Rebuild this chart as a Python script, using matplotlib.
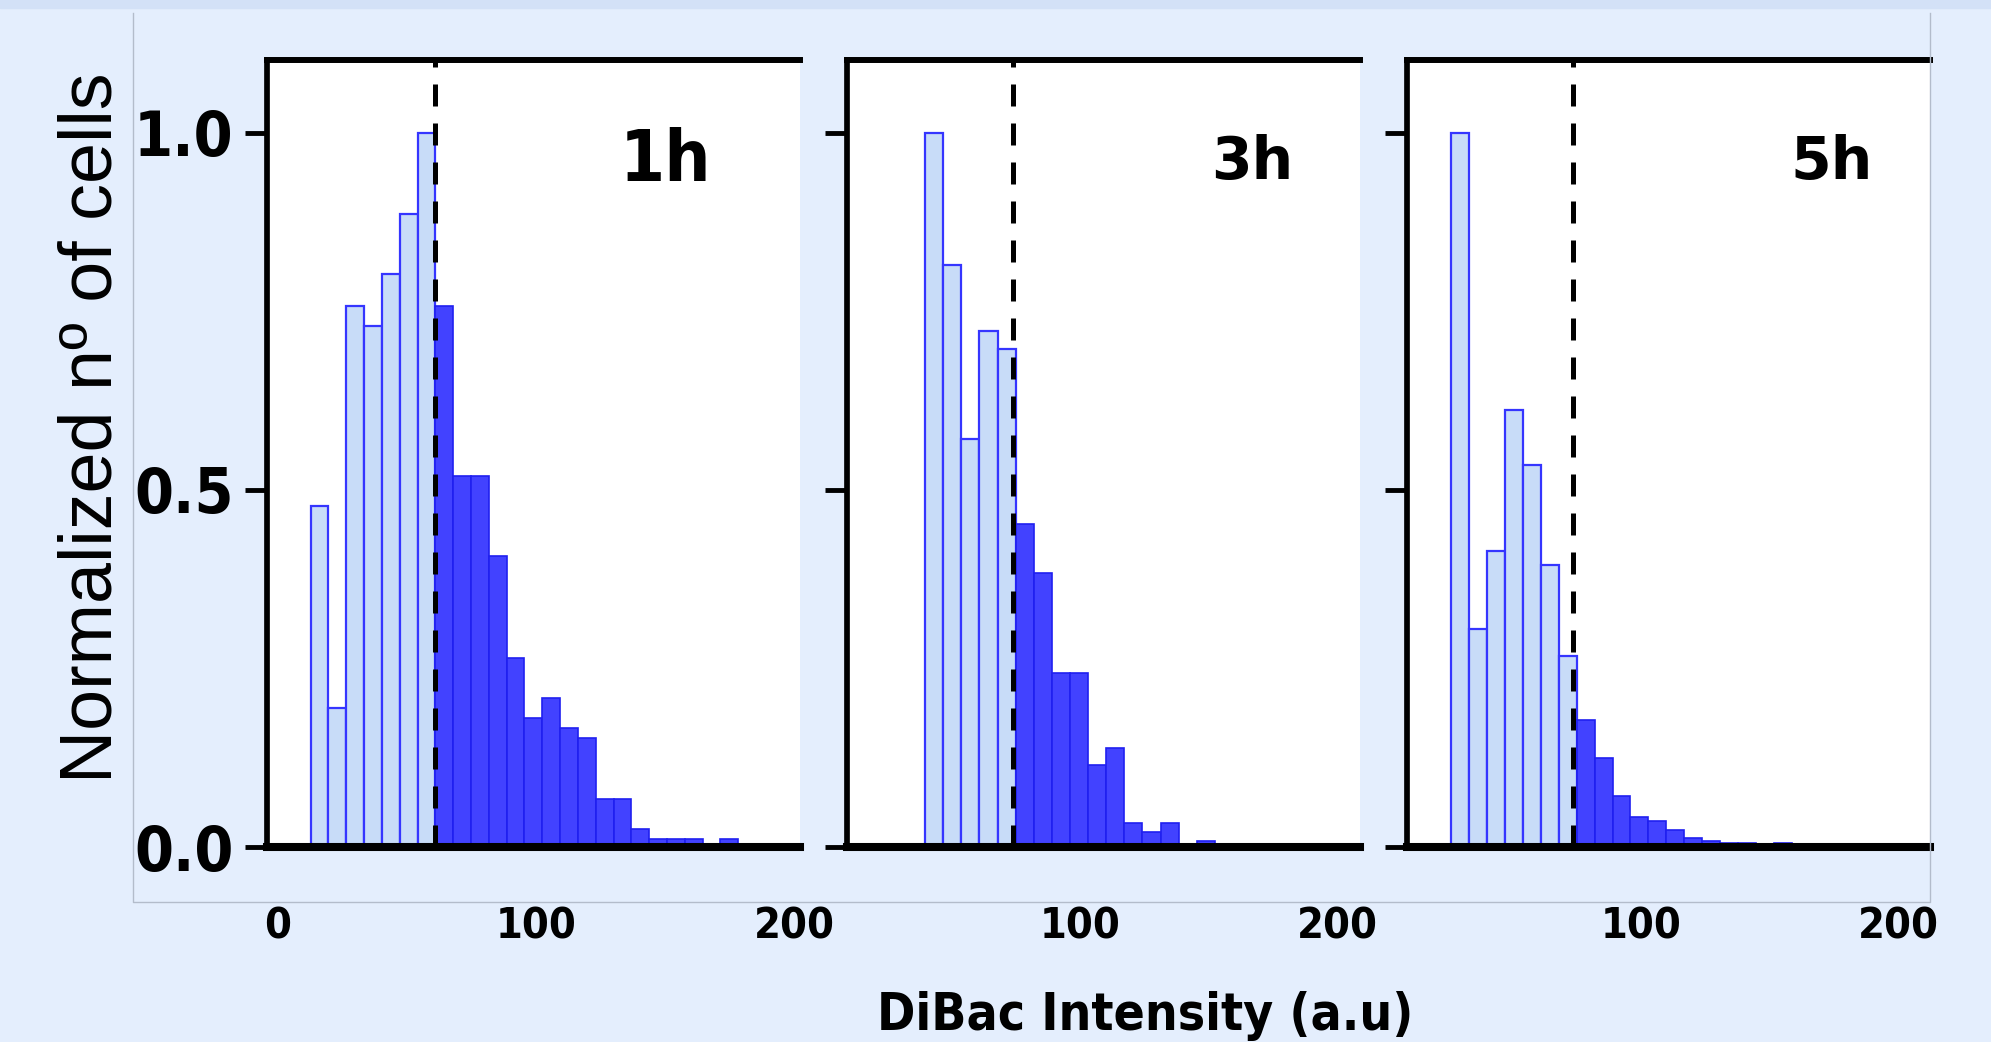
import matplotlib
matplotlib.use("Agg")
import matplotlib.pyplot as plt
from matplotlib import font_manager
from matplotlib.font_manager import FontProperties
from matplotlib.patches import Rectangle
from matplotlib.lines import Line2D

# histogram heights (normalised counts)
labels = ['1h', '3h', '5h']
bin_start = [12.8, 39.7, 25.9]
bin_width = [6.9, 7.05, 7.0]
thresholds = [61.1, 73.9, 73.5]

below_1h = [0.478, 0.194, 0.758, 0.729, 0.802, 0.886, 1.0]
above_1h = [0.758, 0.52, 0.52, 0.408, 0.264, 0.180, 0.209, 0.167, 0.152,
            0.067, 0.067, 0.025, 0.011, 0.011, 0.011, 0.0, 0.011]
below_3h = [1.0, 0.815, 0.571, 0.722, 0.698]
above_3h = [0.452, 0.383, 0.243, 0.243, 0.115, 0.138, 0.033, 0.021, 0.033,
            0.0, 0.008]
below_5h = [1.0, 0.305, 0.414, 0.612, 0.535, 0.395, 0.268]
above_5h = [0.178, 0.124, 0.071, 0.042, 0.036, 0.024, 0.012, 0.009, 0.006,
            0.006, 0.0, 0.005]

below = [below_1h, below_3h, below_5h]
above = [above_1h, above_3h, above_5h]

x_ticks = [0, 100, 200]
y_ticks = [0.0, 0.5, 1.0]
y_ticklabels = ['0.0', '0.5', '1.0']
xlims = [(-4.1, 202.3), (9.3, 209.0), (8.9, 212.5)]


def find_condensed_bold():
    # look for any narrow / condensed face, prefer bold upright
    best = None
    for f in font_manager.fontManager.ttflist:
        st = f.stretch
        if isinstance(st, str):
            st = font_manager.stretch_dict.get(st, 500)
        if st >= 500:
            continue
        wt = f.weight
        if isinstance(wt, str):
            wt = font_manager.weight_dict.get(wt, 400)
        score = (abs(wt - 700), f.style != 'normal')
        if best is None or score < best[0]:
            best = (score, f.fname)
    return best[1] if best else None


cond_file = find_condensed_bold()


def narrow_font(size):
    if cond_file:
        fp = FontProperties(fname=cond_file)
        fp.set_size(size)
        return fp
    return FontProperties(family='DejaVu Sans', weight='bold', stretch='condensed',
                          size=size * 0.8)


names = {f.name for f in font_manager.fontManager.ttflist}
regular = 'Liberation Sans' if 'Liberation Sans' in names else 'DejaVu Sans'

W, H = 1991, 1042
bg = '#E4EEFD'
fig = plt.figure(figsize=(W / 100, H / 100), dpi=100, facecolor=bg)

# darker strip at the very top and the faint frame
fig.patches.append(Rectangle((0, 1 - 8 / H), 1, 8 / H, transform=fig.transFigure,
                             color='#D3E1F7', zorder=0))
frame_x = [133 / W, 133 / W, 1930 / W, 1930 / W]
frame_y = [1 - 13 / H, 1 - 902 / H, 1 - 902 / H, 1 - 13 / H]
fig.lines.append(Line2D(frame_x, frame_y, transform=fig.transFigure,
                        color='#B3BCCB', lw=1.0, zorder=0))

# axes boxes in pixels: left, right ; top / bottom shared
boxes = [(267, 800), (847, 1360), (1407, 1930)]
top, bottom = 60, 847

light_face = '#C8DCF8'
light_edge = '#3535FF'
dark_face = '#4242FF'
dark_edge = '#2020F0'

for i in range(3):
    l, r = boxes[i]
    ax = fig.add_axes([l / W, 1 - bottom / H, (r - l) / W, (bottom - top) / H])
    ax.set_facecolor('white')

    w = bin_width[i]
    n_lo = len(below[i])
    x_lo = [bin_start[i] + k * w for k in range(n_lo)]
    x_hi = [bin_start[i] + (n_lo + k) * w for k in range(len(above[i]))]
    ax.bar(x_lo, below[i], width=w, align='edge', color=light_face,
           edgecolor=light_edge, linewidth=1.6, zorder=2)
    ax.bar(x_hi, above[i], width=w, align='edge', color=dark_face,
           edgecolor=dark_edge, linewidth=1.2, zorder=2)

    ax.axvline(thresholds[i], color='black', lw=3.6, ls=(0, (4.4, 3.4)), zorder=3)

    ax.spines['right'].set_visible(False)
    ax.spines['top'].set_linewidth(4.3)
    ax.spines['left'].set_linewidth(4.1)
    ax.spines['bottom'].set_linewidth(5.8)
    for s in ax.spines.values():
        s.set_zorder(4)

    ax.set_xticks(x_ticks)
    ax.set_xticklabels([str(t) for t in x_ticks], fontproperties=narrow_font(31))
    ax.tick_params(axis='x', length=0, pad=42)

    ax.set_yticks(y_ticks)
    ax.tick_params(axis='y', length=16, width=3.5, direction='out', pad=8)
    if i == 0:
        ax.set_yticklabels(y_ticklabels, fontproperties=narrow_font(45))
    else:
        ax.tick_params(axis='y', labelleft=False)

    # limits last, set_xticks widens them otherwise
    ax.set_xlim(xlims[i])
    ax.set_ylim(0, 1.102)

# panel titles
fig.text(711 / W, 1 - 181 / H, labels[0], ha='right', va='baseline',
         fontproperties=narrow_font(52))
fig.text(1293 / W, 1 - 179 / H, labels[1], ha='right', va='baseline',
         fontfamily='DejaVu Sans', fontweight='bold', fontsize=42)
fig.text(1873 / W, 1 - 179 / H, labels[2], ha='right', va='baseline',
         fontfamily='DejaVu Sans', fontweight='bold', fontsize=42)

fig.text(92 / W, 1 - 428 / H, 'Normalized nº of cells', rotation=90,
         ha='center', va='center', fontfamily=regular, fontsize=53)
fig.text(1145 / W, 1 - 1030 / H, 'DiBac Intensity (a.u)', ha='center',
         va='baseline', fontproperties=narrow_font(37))

fig.savefig('out.png', dpi=100, facecolor=bg)
